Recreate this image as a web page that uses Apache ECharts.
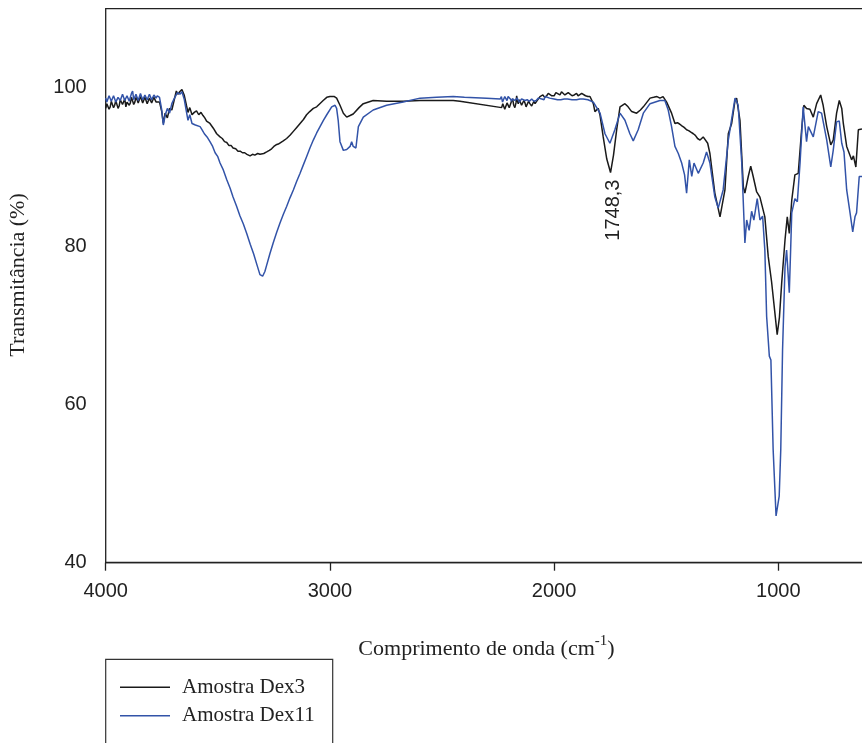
<!DOCTYPE html>
<html>
<head>
<meta charset="utf-8">
<script src="https://cdn.jsdelivr.net/npm/echarts@6/dist/echarts.min.js"></script>
<style>
  html, body { margin: 0; padding: 0; background: #fff; }
  #chart { width: 862px; height: 743px; }
</style>
</head>
<body>
<div id="chart"></div>
<script>
// FTIR spectra: wavenumber (cm-1) vs transmittance (%)
const dex3 = [
  [4000, 97.4], [3995, 98.0], [3990, 97.9], [3985, 97.3], [3980, 97.6], [3975, 98.3], [3970, 98.1],
  [3965, 97.5], [3960, 97.8], [3955, 98.4], [3950, 98.2], [3945, 97.4], [3940, 97.7], [3935, 98.5],
  [3930, 98.3], [3925, 97.9], [3920, 98.0], [3915, 98.6], [3910, 97.6], [3905, 98.2], [3900, 98.4],
  [3895, 97.8], [3890, 98.1], [3885, 98.8], [3880, 98.6], [3875, 97.9], [3870, 98.2], [3865, 98.8],
  [3860, 98.5], [3855, 98.1], [3850, 98.0], [3845, 98.9], [3840, 98.7], [3835, 98.1], [3830, 98.3],
  [3825, 98.8], [3820, 98.6], [3815, 98.0], [3810, 98.2], [3805, 98.7], [3800, 98.5], [3795, 98.1],
  [3790, 98.3], [3785, 98.8], [3780, 98.6], [3775, 98.2], [3770, 98.4], [3760, 98.2], [3750, 97.0],
  [3743, 95.5], [3735, 96.8], [3725, 96.2], [3715, 97.4], [3705, 97.2], [3695, 98.4], [3685, 99.6],
  [3678, 99.2], [3670, 99.5], [3660, 99.8], [3650, 99.1], [3640, 97.8], [3633, 96.9], [3625, 97.5],
  [3615, 96.6], [3605, 96.9], [3595, 97.1], [3585, 96.6], [3575, 96.9], [3566, 96.5], [3558, 96.2],
  [3550, 95.8], [3543, 95.9], [3535, 95.5], [3527, 95.3], [3520, 94.9], [3512, 94.7], [3505, 94.2],
  [3497, 94.3], [3490, 93.8], [3480, 93.6], [3470, 93.2], [3460, 93.1], [3450, 92.7], [3440, 92.7],
  [3432, 92.4], [3420, 92.3], [3410, 92.0], [3400, 92.0], [3390, 91.8], [3380, 91.8], [3370, 91.6],
  [3356, 91.4], [3345, 91.6], [3335, 91.5], [3322, 91.7], [3312, 91.6], [3295, 91.7], [3282, 91.9],
  [3270, 92.1], [3260, 92.3], [3250, 92.6], [3240, 92.8], [3230, 92.9], [3223, 93.0], [3208, 93.3],
  [3193, 93.6], [3178, 94.0], [3163, 94.5], [3148, 95.0], [3133, 95.5], [3118, 96.0], [3104, 96.6],
  [3090, 97.0], [3074, 97.4], [3059, 97.6], [3045, 98.0], [3030, 98.4], [3014, 98.8], [3000, 98.9],
  [2992, 99.0], [2980, 98.9], [2970, 98.7], [2955, 97.8], [2940, 96.8], [2925, 96.3], [2910, 96.5],
  [2896, 96.7], [2870, 97.5], [2851, 98.0], [2807, 98.4], [2747, 98.3], [2673, 98.3], [2598, 98.4],
  [2524, 98.4], [2450, 98.4], [2420, 98.3], [2234, 97.5], [2229, 98.0], [2225, 97.8], [2220, 97.3],
  [2215, 97.4], [2210, 98.1], [2205, 98.2], [2200, 97.5], [2197, 97.6], [2190, 98.3], [2185, 98.6],
  [2180, 97.8], [2175, 97.5], [2170, 98.1], [2167, 99.0], [2163, 98.3], [2160, 98.0], [2155, 98.5],
  [2150, 98.3], [2145, 97.8], [2140, 97.9], [2135, 98.4], [2130, 98.1], [2125, 97.6], [2120, 97.8],
  [2114, 98.3], [2108, 98.0], [2100, 97.7], [2095, 97.9], [2090, 98.3], [2085, 98.0], [2078, 98.3],
  [2070, 98.6], [2063, 98.9], [2056, 98.7], [2050, 99.1], [2042, 98.8], [2033, 99.0], [2026, 99.3],
  [2020, 99.2], [2010, 99.0], [2000, 99.0], [1992, 99.4], [1985, 99.3], [1974, 99.1], [1967, 99.5],
  [1960, 99.4], [1952, 99.1], [1945, 99.0], [1937, 99.4], [1929, 99.2], [1920, 99.0], [1910, 99.1],
  [1900, 99.3], [1893, 99.0], [1885, 99.1], [1877, 99.3], [1870, 99.2], [1860, 99.0], [1849, 98.9],
  [1840, 98.9], [1825, 98.0], [1818, 97.0], [1803, 97.4], [1795, 96.5], [1781, 93.8], [1765, 91.0],
  [1748.3, 89.3], [1735, 91.5], [1721, 94.7], [1706, 97.6], [1699, 97.8], [1684, 98.0], [1670, 97.6],
  [1654, 97.0], [1632, 96.8], [1615, 97.2], [1602, 97.6], [1572, 98.7], [1556, 98.8], [1541, 98.9],
  [1528, 98.7], [1514, 98.9], [1498, 98.2], [1476, 96.8], [1461, 95.5], [1450, 95.6], [1439, 95.4],
  [1430, 95.2], [1420, 95.0], [1409, 94.7], [1400, 94.6], [1390, 94.4], [1379, 94.2], [1370, 94.0],
  [1360, 93.6], [1349, 93.4], [1335, 93.8], [1327, 94.0], [1315, 93.0], [1305, 91.7], [1283, 86.7],
  [1260, 83.7], [1238, 87.1], [1223, 94.2], [1208, 95.5], [1193, 98.4], [1186, 98.7], [1171, 95.9],
  [1156, 87.5], [1149, 86.7], [1134, 88.8], [1123, 90.1], [1112, 88.8], [1097, 86.9], [1082, 86.2],
  [1060, 83.7], [1045, 78.7], [1030, 75.5], [1015, 71.5], [1005, 68.8], [995, 71.0], [985, 75.3],
  [970, 80.8], [960, 83.7], [951, 81.6], [940, 85.8], [926, 89.0], [911, 89.2], [896, 94.7],
  [886, 97.8], [874, 97.4], [859, 97.3], [844, 96.3], [829, 98.0], [811, 99.1], [800, 97.8],
  [784, 95.1], [766, 92.8], [755, 93.4], [740, 96.8], [728, 98.4], [717, 97.4], [710, 95.5],
  [695, 92.6], [673, 90.9], [665, 91.4], [654, 90.0], [643, 94.7], [628, 94.8], [600, 95.0]
];

const dex11 = [
  [4000, 98.7], [3995, 98.2], [3990, 98.4], [3985, 99.0], [3980, 98.9], [3975, 98.3], [3970, 98.5],
  [3965, 99.0], [3960, 98.8], [3955, 98.2], [3950, 98.3], [3945, 98.8], [3940, 98.9], [3935, 98.4],
  [3930, 98.6], [3925, 99.2], [3920, 99.1], [3915, 98.4], [3910, 98.5], [3905, 99.0], [3900, 98.9],
  [3895, 98.3], [3890, 98.4], [3885, 99.3], [3880, 99.6], [3875, 98.5], [3870, 98.7], [3865, 99.2],
  [3860, 99.0], [3855, 98.4], [3850, 98.6], [3845, 99.3], [3840, 99.2], [3835, 98.5], [3830, 98.6],
  [3825, 99.1], [3820, 99.0], [3815, 98.5], [3810, 98.7], [3805, 99.2], [3800, 99.1], [3795, 98.5],
  [3790, 98.6], [3785, 99.1], [3780, 98.9], [3775, 98.7], [3770, 99.0], [3760, 98.8], [3750, 97.2],
  [3743, 95.3], [3735, 96.5], [3725, 97.4], [3715, 96.8], [3705, 98.0], [3695, 98.6], [3680, 99.4],
  [3669, 99.2], [3660, 99.5], [3650, 98.6], [3640, 97.0], [3633, 95.9], [3625, 96.6], [3615, 95.5],
  [3600, 95.3], [3579, 95.1], [3570, 94.7], [3560, 94.2], [3548, 93.8], [3535, 93.2], [3523, 92.6],
  [3512, 91.8], [3500, 91.3], [3490, 90.5], [3475, 89.6], [3460, 88.4], [3445, 87.3], [3432, 86.2],
  [3417, 85.1], [3401, 83.8], [3386, 82.8], [3371, 81.6], [3355, 80.2], [3340, 79.0], [3325, 77.6],
  [3312, 76.4], [3300, 76.2], [3290, 76.8], [3282, 77.6], [3268, 79.0], [3253, 80.4], [3238, 81.7],
  [3223, 82.9], [3208, 84.0], [3193, 85.0], [3178, 86.1], [3163, 87.1], [3148, 88.2], [3133, 89.2],
  [3118, 90.3], [3104, 91.3], [3089, 92.4], [3074, 93.4], [3059, 94.3], [3044, 95.1], [3029, 95.9],
  [3014, 96.6], [2992, 97.6], [2977, 97.8], [2970, 97.4], [2963, 95.9], [2955, 93.2], [2940, 92.1],
  [2925, 92.2], [2910, 92.6], [2903, 93.2], [2896, 92.6], [2884, 92.4], [2873, 95.1], [2851, 96.3],
  [2807, 97.2], [2747, 97.8], [2673, 98.2], [2598, 98.7], [2524, 98.8], [2450, 98.9], [2400, 98.8],
  [2301, 98.7], [2240, 98.6], [2235, 98.9], [2230, 98.2], [2225, 98.4], [2220, 98.9], [2215, 98.7],
  [2210, 98.4], [2205, 98.9], [2200, 99.1], [2195, 98.6], [2190, 98.3], [2185, 98.6], [2180, 98.8],
  [2175, 98.4], [2170, 98.2], [2165, 98.7], [2160, 98.6], [2155, 98.2], [2150, 98.3], [2145, 98.6],
  [2140, 98.7], [2130, 98.4], [2120, 98.5], [2110, 98.3], [2100, 98.6], [2090, 98.3], [2080, 98.4],
  [2070, 98.7], [2063, 98.9], [2055, 98.6], [2045, 98.5], [2040, 98.9], [2033, 98.8], [2020, 98.7],
  [2000, 98.6], [1985, 98.5], [1970, 98.5], [1955, 98.6], [1940, 98.6], [1920, 98.5], [1900, 98.5],
  [1885, 98.6], [1870, 98.6], [1849, 98.5], [1825, 98.2], [1795, 96.8], [1773, 94.2], [1751, 93.0],
  [1729, 94.7], [1706, 96.8], [1684, 95.9], [1662, 94.2], [1647, 93.3], [1625, 94.7], [1602, 96.8],
  [1572, 98.0], [1528, 98.4], [1506, 98.4], [1491, 97.2], [1476, 95.1], [1461, 92.6], [1446, 91.7],
  [1431, 90.5], [1418, 89.0], [1409, 86.7], [1397, 90.9], [1386, 88.8], [1376, 90.5], [1357, 89.2],
  [1335, 90.5], [1320, 91.9], [1305, 90.5], [1283, 86.2], [1268, 84.8], [1246, 87.1], [1223, 93.4],
  [1193, 98.7], [1179, 97.8], [1163, 90.5], [1149, 80.4], [1141, 83.3], [1130, 82.0], [1119, 84.4],
  [1109, 83.3], [1094, 86.0], [1082, 83.3], [1070, 83.8], [1060, 79.5], [1052, 71.1], [1040, 66.1],
  [1033, 65.6], [1023, 54.3], [1010, 45.9], [996, 48.4], [989, 54.3], [981, 66.9], [970, 77.4],
  [963, 79.5], [951, 74.1], [945, 79.5], [940, 84.2], [926, 86.0], [915, 85.6], [903, 90.5],
  [889, 97.6], [881, 97.8], [874, 93.2], [866, 95.1], [844, 93.8], [822, 97.0], [807, 96.8],
  [784, 93.4], [766, 90.0], [755, 92.1], [740, 95.7], [728, 95.8], [717, 93.0], [707, 91.9],
  [695, 87.1], [680, 84.2], [668, 81.8], [658, 83.7], [651, 84.2], [639, 88.8], [628, 88.8], [600, 89.0]
];

const seriesNames = ['Amostra Dex3', 'Amostra Dex11'];
const xTicks = [1000, 2000, 3000, 4000];
const yTicks = [40, 60, 80, 100];
const peakWavenumber = 1748.3;   // labelled carbonyl band of Dex3

const sansFont = '"Liberation Sans", Arial, sans-serif';
const serifFont = '"Liberation Serif", "Times New Roman", serif';
const axisColor = '#222';
const colorDex3 = '#1a1a1a';
const colorDex11 = '#3253a8';

const chart = echarts.init(document.getElementById('chart'), null, { renderer: 'canvas' });

chart.setOption({
  animation: false,
  backgroundColor: '#fff',
  grid: {
    left: 105.7, top: 8.7, width: 896.8, height: 554,
    outerBoundsMode: 'none', containLabel: false,
    show: true, borderColor: axisColor, borderWidth: 1.3, backgroundColor: 'transparent'
  },
  xAxis: {
    type: 'value', min: 0, max: 4000, inverse: true,
    axisLine: { show: true, lineStyle: { color: axisColor, width: 1.3 } },
    axisTick: { show: true, customValues: xTicks, length: 8, lineStyle: { color: axisColor, width: 1.3 } },
    axisLabel: {
      customValues: xTicks, margin: 19, color: '#222', fontSize: 20, fontFamily: sansFont,
      formatter: v => String(v)
    },
    splitLine: { show: false }
  },
  yAxis: {
    type: 'value', min: 40, max: 110,
    axisLine: { show: true, lineStyle: { color: axisColor, width: 1.3 } },
    axisTick: { show: true, customValues: yTicks, length: 8, lineStyle: { color: axisColor, width: 1.3 } },
    axisLabel: {
      customValues: yTicks, margin: 19, color: '#222', fontSize: 20, fontFamily: sansFont,
      formatter: v => String(v)
    },
    splitLine: { show: false }
  },
  legend: {
    orient: 'vertical', left: 105.7, top: 659.3,
    padding: [17.5, 10, 5, 14.3],
    icon: 'rect', itemWidth: 50, itemHeight: 1.5, itemGap: 7.4,
    borderWidth: 0,
    textStyle: { fontFamily: serifFont, fontSize: 21, color: '#222', padding: [0, 0, 0, 7] },
    data: seriesNames
  },
  series: [
    {
      name: seriesNames[0], type: 'line', data: dex3, symbol: 'none',
      lineStyle: { color: colorDex3, width: 1.5 }, itemStyle: { color: colorDex3 }
    },
    {
      name: seriesNames[1], type: 'line', data: dex11, symbol: 'none',
      lineStyle: { color: colorDex11, width: 1.5 }, itemStyle: { color: colorDex11 }
    }
  ],
  graphic: [
    {
      // legend frame (runs past the lower edge of the page)
      type: 'rect', shape: { x: 105.7, y: 659.3, width: 227, height: 120 },
      style: { fill: 'none', stroke: '#333', lineWidth: 1.2 }, silent: true
    },
    {
      type: 'text', x: 18, y: 275, rotation: Math.PI / 2,
      style: {
        text: 'Transmitância (%)', fontFamily: serifFont, fontSize: 22, fill: '#222',
        align: 'center', verticalAlign: 'middle'
      }
    },
    {
      type: 'text', x: 486.5, y: 649,
      style: {
        text: '{b|Comprimento de onda (cm}{s|-1}{b|)}',
        align: 'center', verticalAlign: 'middle',
        rich: {
          b: { fontFamily: serifFont, fontSize: 22, fill: '#222', color: '#222' },
          s: { fontFamily: serifFont, fontSize: 15, fill: '#222', color: '#222', padding: [0, 0, 15, 0] }
        }
      }
    }
  ]
});

// Peak annotation placed from the data point at the labelled wavenumber
const peakPoint = dex3.find(p => p[0] === peakWavenumber);
const pix = chart.convertToPixel({ seriesIndex: 0 }, peakPoint);
chart.setOption({
  graphic: [
    {}, {}, {},
    {
      type: 'text', x: pix[0] + 2.5, y: pix[1] + 7, rotation: Math.PI / 2,
      style: {
        text: String(peakWavenumber).replace('.', ','), fontFamily: sansFont, fontSize: 20, fill: '#222',
        align: 'right', verticalAlign: 'middle'
      }
    }
  ]
});
</script>
</body>
</html>
